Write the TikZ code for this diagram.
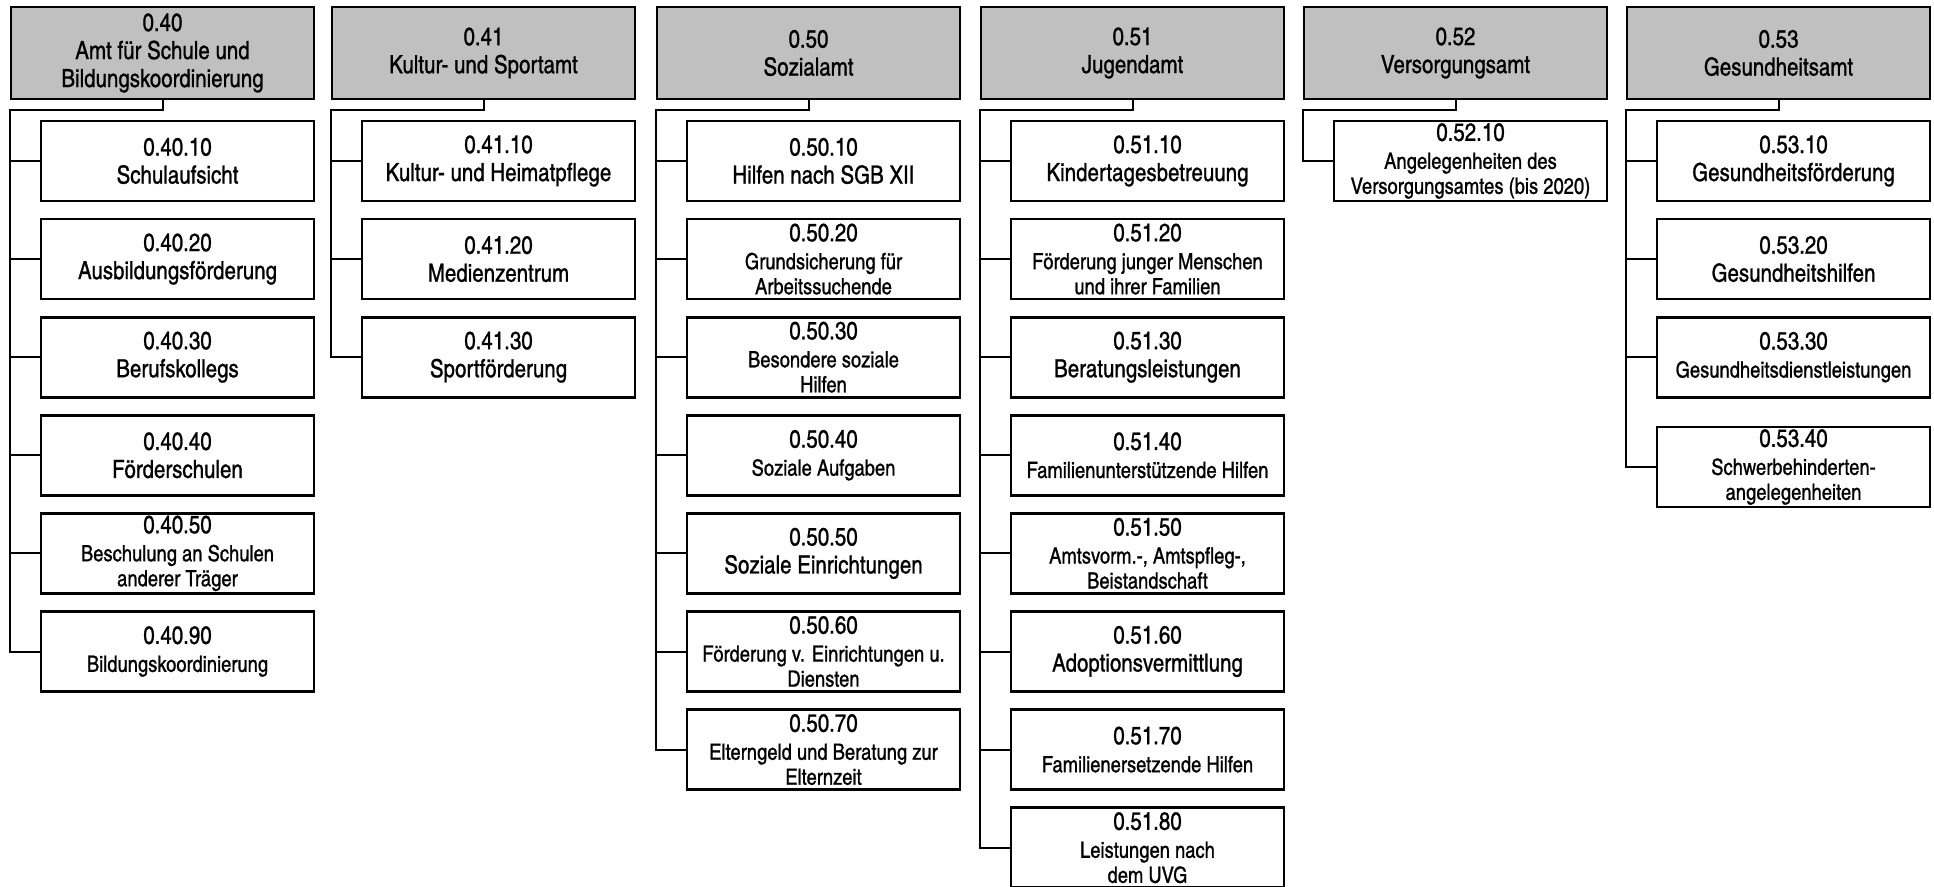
\documentclass[tikz,border=0pt]{standalone}
\usepackage{xcolor}
\usepackage{fontspec}
\setmainfont{texgyreheroscn}[Extension=.otf, UprightFont=*-regular, BoldFont=*-bold, ItalicFont=*-italic, BoldItalicFont=*-bolditalic, FakeBold=0.9]
\usepackage{tikz}

\definecolor{amtgrau}{RGB}{192,192,192}
\newcommand{\gross}{\fontsize{12.5}{14}\selectfont}
\newcommand{\klein}{\fontsize{11.2}{12.5}\selectfont}

\tikzset{
  amt/.style={draw, line width=1.4pt, fill=amtgrau, minimum width=151.5pt, minimum height=46pt, inner sep=0pt, align=center, font=\gross},
  abt/.style={draw, line width=1.4pt, fill=white, minimum width=136.5pt, minimum height=40pt, inner sep=0pt, align=center, font=\gross},
  ast/.style={line width=1pt}
}

\begin{document}
\begin{tikzpicture}[x=0.5pt, y=-0.5pt]
             \useasboundingbox (0,0) rectangle (1934,887);

             % Aemter
             \node[amt] (a40) at (162.5, 53) {0.40\\Amt für Schule und\\Bildungskoordinierung};
             \node[amt] (a41) at (483.5, 53) {0.41\\Kultur- und Sportamt};
             \node[amt] (a50) at (808.5, 53) {0.50\\Sozialamt};
             \node[amt] (a51) at (1132.5, 53) {0.51\\Jugendamt};
             \node[amt] (a52) at (1455.5, 53) {0.52\\Versorgungsamt};
             \node[amt] (a53) at (1778.5, 53) {0.53\\Gesundheitsamt};

             % 0.40
             \node[abt] (a40-10) at (177.5, 161) {0.40.10\\Schulaufsicht};
             \node[abt] (a40-20) at (177.5, 259.1) {0.40.20\\Ausbildungsförderung};
             \node[abt] (a40-30) at (177.5, 357.2) {0.40.30\\Berufskollegs};
             \node[abt] (a40-40) at (177.5, 455.3) {0.40.40\\Förderschulen};
             \node[abt] (a40-50) at (177.5, 553.4) {0.40.50\\\klein Beschulung an Schulen\\[-1.5pt]\klein anderer Träger};
             \node[abt] (a40-90) at (177.5, 651.5) {0.40.90\\\klein Bildungskoordinierung};

             % 0.41
             \node[abt] (a41-10) at (498.5, 161) {0.41.10\\Kultur- und Heimatpflege};
             \node[abt] (a41-20) at (498.5, 259.1) {0.41.20\\Medienzentrum};
             \node[abt] (a41-30) at (498.5, 357.2) {0.41.30\\Sportförderung};

             % 0.50
             \node[abt] (a50-10) at (823.5, 161) {0.50.10\\Hilfen nach SGB XII};
             \node[abt] (a50-20) at (823.5, 259.1) {0.50.20\\\klein Grundsicherung für\\[-1.5pt]\klein Arbeitssuchende};
             \node[abt] (a50-30) at (823.5, 357.2) {0.50.30\\\klein Besondere soziale\\[-1.5pt]\klein Hilfen};
             \node[abt] (a50-40) at (823.5, 455.3) {0.50.40\\\klein Soziale Aufgaben};
             \node[abt] (a50-50) at (823.5, 553.4) {0.50.50\\Soziale Einrichtungen};
             \node[abt] (a50-60) at (823.5, 651.5) {0.50.60\\\klein Förderung v. Einrichtungen u.\\[-1.5pt]\klein Diensten};
             \node[abt] (a50-70) at (823.5, 749.6) {0.50.70\\\klein Elterngeld und Beratung zur\\[-1.5pt]\klein Elternzeit};

             % 0.51
             \node[abt] (a51-10) at (1147.5, 161) {0.51.10\\Kindertagesbetreuung};
             \node[abt] (a51-20) at (1147.5, 259.1) {0.51.20\\\klein Förderung junger Menschen\\[-1.5pt]\klein und ihrer Familien};
             \node[abt] (a51-30) at (1147.5, 357.2) {0.51.30\\Beratungsleistungen};
             \node[abt] (a51-40) at (1147.5, 455.3) {0.51.40\\\klein Familienunterstützende Hilfen};
             \node[abt] (a51-50) at (1147.5, 553.4) {0.51.50\\\klein Amtsvorm.-, Amtspfleg-,\\[-1.5pt]\klein Beistandschaft};
             \node[abt] (a51-60) at (1147.5, 651.5) {0.51.60\\Adoptionsvermittlung};
             \node[abt] (a51-70) at (1147.5, 749.6) {0.51.70\\\klein Familienersetzende Hilfen};
             \node[abt] (a51-80) at (1147.5, 847.7) {0.51.80\\\klein Leistungen nach\\[-1.5pt]\klein dem UVG};

             % 0.52
             \node[abt] (a52-10) at (1470.5, 161) {0.52.10\\\klein Angelegenheiten des\\[-1.5pt]\klein Versorgungsamtes (bis 2020)};

             % 0.53
             \node[abt] (a53-10) at (1793.5, 161) {0.53.10\\Gesundheitsförderung};
             \node[abt] (a53-20) at (1793.5, 259.1) {0.53.20\\Gesundheitshilfen};
             \node[abt] (a53-30) at (1793.5, 357.2) {0.53.30\\\klein Gesundheitsdienstleistungen};
             \node[abt] (a53-40) at (1793.5, 467) {0.53.40\\\klein Schwerbehinderten-\\[-1.5pt]\klein angelegenheiten};

             % Verbindungen
             \draw[ast] (a40.south) -- ++(0,10) -| (a40.west |- a40-90) -- (a40-90.west);
             \draw[ast] (a40.west |- a40-10) -- (a40-10.west);
             \draw[ast] (a40.west |- a40-20) -- (a40-20.west);
             \draw[ast] (a40.west |- a40-30) -- (a40-30.west);
             \draw[ast] (a40.west |- a40-40) -- (a40-40.west);
             \draw[ast] (a40.west |- a40-50) -- (a40-50.west);

             \draw[ast] (a41.south) -- ++(0,10) -| (a41.west |- a41-30) -- (a41-30.west);
             \draw[ast] (a41.west |- a41-10) -- (a41-10.west);
             \draw[ast] (a41.west |- a41-20) -- (a41-20.west);

             \draw[ast] (a50.south) -- ++(0,10) -| (a50.west |- a50-70) -- (a50-70.west);
             \draw[ast] (a50.west |- a50-10) -- (a50-10.west);
             \draw[ast] (a50.west |- a50-20) -- (a50-20.west);
             \draw[ast] (a50.west |- a50-30) -- (a50-30.west);
             \draw[ast] (a50.west |- a50-40) -- (a50-40.west);
             \draw[ast] (a50.west |- a50-50) -- (a50-50.west);
             \draw[ast] (a50.west |- a50-60) -- (a50-60.west);

             \draw[ast] (a51.south) -- ++(0,10) -| (a51.west |- a51-80) -- (a51-80.west);
             \draw[ast] (a51.west |- a51-10) -- (a51-10.west);
             \draw[ast] (a51.west |- a51-20) -- (a51-20.west);
             \draw[ast] (a51.west |- a51-30) -- (a51-30.west);
             \draw[ast] (a51.west |- a51-40) -- (a51-40.west);
             \draw[ast] (a51.west |- a51-50) -- (a51-50.west);
             \draw[ast] (a51.west |- a51-60) -- (a51-60.west);
             \draw[ast] (a51.west |- a51-70) -- (a51-70.west);

             \draw[ast] (a52.south) -- ++(0,10) -| (a52.west |- a52-10) -- (a52-10.west);

             \draw[ast] (a53.south) -- ++(0,10) -| (a53.west |- a53-40) -- (a53-40.west);
             \draw[ast] (a53.west |- a53-10) -- (a53-10.west);
             \draw[ast] (a53.west |- a53-20) -- (a53-20.west);
             \draw[ast] (a53.west |- a53-30) -- (a53-30.west);
\end{tikzpicture}
\end{document}
